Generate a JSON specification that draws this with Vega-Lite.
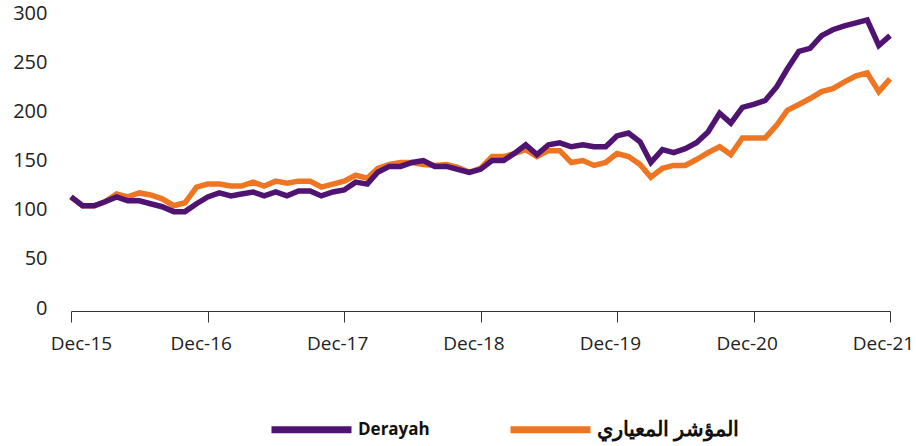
{
  "$schema": "https://vega.github.io/schema/vega-lite/v6.json",
  "autosize": {"type": "none"},
  "width": 819,
  "height": 295,
  "padding": {"left": 71, "top": 13, "right": 26, "bottom": 138},
  "background": "white",
  "config": {"view": {"stroke": null}, "font": "Open Sans"},
  "data": {"values": [
    {"date": "2015-12-01", "Derayah": 113, "Index": 113},
    {"date": "2016-01-01", "Derayah": 104, "Index": 104},
    {"date": "2016-02-01", "Derayah": 104, "Index": 104},
    {"date": "2016-03-01", "Derayah": 108, "Index": 108},
    {"date": "2016-04-01", "Derayah": 113, "Index": 116},
    {"date": "2016-05-01", "Derayah": 109, "Index": 113},
    {"date": "2016-06-01", "Derayah": 109, "Index": 117},
    {"date": "2016-07-01", "Derayah": 106, "Index": 115},
    {"date": "2016-08-01", "Derayah": 103, "Index": 111},
    {"date": "2016-09-01", "Derayah": 98, "Index": 104},
    {"date": "2016-10-01", "Derayah": 98, "Index": 107},
    {"date": "2016-11-01", "Derayah": 106, "Index": 123},
    {"date": "2016-12-01", "Derayah": 113, "Index": 126},
    {"date": "2017-01-01", "Derayah": 117, "Index": 126},
    {"date": "2017-02-01", "Derayah": 114, "Index": 124},
    {"date": "2017-03-01", "Derayah": 116, "Index": 124},
    {"date": "2017-04-01", "Derayah": 118, "Index": 128},
    {"date": "2017-05-01", "Derayah": 114, "Index": 124},
    {"date": "2017-06-01", "Derayah": 118, "Index": 129},
    {"date": "2017-07-01", "Derayah": 114, "Index": 127},
    {"date": "2017-08-01", "Derayah": 119, "Index": 129},
    {"date": "2017-09-01", "Derayah": 119, "Index": 129},
    {"date": "2017-10-01", "Derayah": 114, "Index": 123},
    {"date": "2017-11-01", "Derayah": 118, "Index": 126},
    {"date": "2017-12-01", "Derayah": 120, "Index": 129},
    {"date": "2018-01-01", "Derayah": 128, "Index": 135},
    {"date": "2018-02-01", "Derayah": 126, "Index": 132},
    {"date": "2018-03-01", "Derayah": 138, "Index": 142},
    {"date": "2018-04-01", "Derayah": 144, "Index": 146},
    {"date": "2018-05-01", "Derayah": 144, "Index": 148},
    {"date": "2018-06-01", "Derayah": 148, "Index": 148},
    {"date": "2018-07-01", "Derayah": 150, "Index": 146},
    {"date": "2018-08-01", "Derayah": 144, "Index": 145},
    {"date": "2018-09-01", "Derayah": 144, "Index": 146},
    {"date": "2018-10-01", "Derayah": 141, "Index": 143},
    {"date": "2018-11-01", "Derayah": 138, "Index": 138},
    {"date": "2018-12-01", "Derayah": 141, "Index": 142},
    {"date": "2019-01-01", "Derayah": 150, "Index": 154},
    {"date": "2019-02-01", "Derayah": 150, "Index": 154},
    {"date": "2019-03-01", "Derayah": 157, "Index": 157},
    {"date": "2019-04-01", "Derayah": 166, "Index": 161},
    {"date": "2019-05-01", "Derayah": 156, "Index": 154},
    {"date": "2019-06-01", "Derayah": 166, "Index": 160},
    {"date": "2019-07-01", "Derayah": 168, "Index": 160},
    {"date": "2019-08-01", "Derayah": 164, "Index": 148},
    {"date": "2019-09-01", "Derayah": 166, "Index": 150},
    {"date": "2019-10-01", "Derayah": 164, "Index": 145},
    {"date": "2019-11-01", "Derayah": 164, "Index": 148},
    {"date": "2019-12-01", "Derayah": 175, "Index": 157},
    {"date": "2020-01-01", "Derayah": 178, "Index": 154},
    {"date": "2020-02-01", "Derayah": 169, "Index": 146},
    {"date": "2020-03-01", "Derayah": 148, "Index": 133},
    {"date": "2020-04-01", "Derayah": 161, "Index": 142},
    {"date": "2020-05-01", "Derayah": 158, "Index": 145},
    {"date": "2020-06-01", "Derayah": 162, "Index": 145},
    {"date": "2020-07-01", "Derayah": 168, "Index": 151},
    {"date": "2020-08-01", "Derayah": 179, "Index": 158},
    {"date": "2020-09-01", "Derayah": 198, "Index": 164},
    {"date": "2020-10-01", "Derayah": 188, "Index": 156},
    {"date": "2020-11-01", "Derayah": 204, "Index": 173},
    {"date": "2020-12-01", "Derayah": 207, "Index": 173},
    {"date": "2021-01-01", "Derayah": 211, "Index": 173},
    {"date": "2021-02-01", "Derayah": 225, "Index": 186},
    {"date": "2021-03-01", "Derayah": 243, "Index": 201},
    {"date": "2021-04-01", "Derayah": 261, "Index": 207},
    {"date": "2021-05-01", "Derayah": 264, "Index": 213},
    {"date": "2021-06-01", "Derayah": 277, "Index": 220},
    {"date": "2021-07-01", "Derayah": 283, "Index": 223},
    {"date": "2021-08-01", "Derayah": 287, "Index": 230},
    {"date": "2021-09-01", "Derayah": 290, "Index": 236},
    {"date": "2021-10-01", "Derayah": 293, "Index": 239},
    {"date": "2021-11-01", "Derayah": 267, "Index": 220},
    {"date": "2021-12-01", "Derayah": 277, "Index": 233}
  ]},
  "transform": [{"fold": ["Derayah", "Index"], "as": ["series", "value"]}],
  "encoding": {
    "x": {
      "field": "date",
      "type": "temporal",
      "scale": {"type": "utc", "domain": [
        {"year": 2015, "month": 12, "date": 1, "utc": true},
        {"year": 2021, "month": 12, "date": 1, "utc": true}
      ]},
      "axis": {
        "title": null,
        "values": [
          {"year": 2015, "month": 12, "date": 1, "utc": true},
          {"year": 2016, "month": 12, "date": 1, "utc": true},
          {"year": 2017, "month": 12, "date": 1, "utc": true},
          {"year": 2018, "month": 12, "date": 1, "utc": true},
          {"year": 2019, "month": 12, "date": 1, "utc": true},
          {"year": 2020, "month": 12, "date": 1, "utc": true},
          {"year": 2021, "month": 12, "date": 1, "utc": true}
        ],
        "labelExpr": "utcFormat(datum.value, '%b-%y')",
        "labelAlign": "center",
        "labelFlush": false,
        "labelOffset": {"condition": {"test": "datum.index === 0", "value": 10}, "value": -7},
        "grid": false,
        "domainColor": "#333333",
        "tickColor": "#333333",
        "tickSize": 11,
        "offset": 3,
        "labelFontSize": 19,
        "labelColor": "#222222",
        "labelPadding": 12,
        "labelOverlap": false
      }
    },
    "y": {
      "field": "value",
      "type": "quantitative",
      "scale": {"domain": [0, 300]},
      "axis": {
        "title": null,
        "values": [0, 50, 100, 150, 200, 250, 300],
        "grid": false,
        "domain": false,
        "ticks": false,
        "labelPadding": 24,
        "labelFontSize": 20,
        "labelColor": "#222222"
      }
    },
    "color": {
      "field": "series",
      "type": "nominal",
      "scale": {"domain": ["Derayah", "Index"], "range": ["#4F1372", "#EE7623"]},
      "legend": {
        "title": null,
        "orient": "none",
        "legendX": 197,
        "legendY": 373,
        "direction": "horizontal",
        "symbolType": "stroke",
        "symbolSize": 6400,
        "symbolStrokeWidth": 7,
        "labelFontSize": 17,
        "labelFontWeight": "bold",
        "labelColor": "#111111",
        "labelOffset": 3,
        "labelLimit": 300,
        "columnPadding": 66,
        "labelExpr": "datum.label === 'Index' ? 'المؤشر المعياري' : datum.label",
        "encode": {
          "symbols": {
            "enter": {"stroke": {"signal": "datum.label === 'Derayah' ? '#7D4A9E' : '#EE7623'"}},
            "update": {"stroke": {"signal": "datum.label === 'Derayah' ? '#7D4A9E' : '#EE7623'"}}
          },
          "labels": {
            "update": {"fontSize": {"signal": "datum.label === 'Derayah' ? 17 : 21"}}
          }
        }
      }
    }
  },
  "layer": [
    {
      "transform": [{"filter": "datum.series === 'Index'"}],
      "mark": {"type": "line", "strokeWidth": 5.5, "strokeJoin": "miter", "strokeCap": "butt"}
    },
    {
      "transform": [{"filter": "datum.series === 'Derayah'"}],
      "mark": {"type": "line", "strokeWidth": 5.5, "strokeJoin": "miter", "strokeCap": "butt"}
    }
  ]
}
